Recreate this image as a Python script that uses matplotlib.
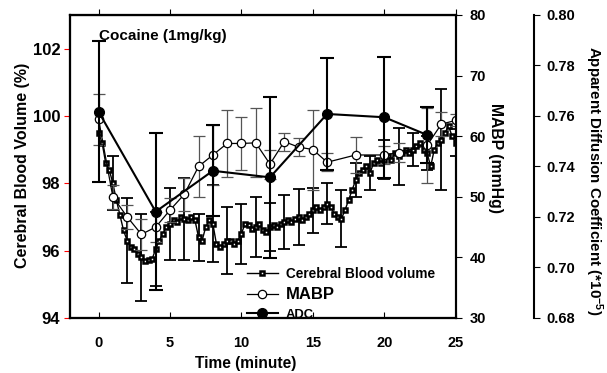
import matplotlib
matplotlib.use("Agg")
import matplotlib.pyplot as plt
import numpy as np

plt.rcParams['font.family'] = ['Liberation Sans', 'DejaVu Sans']
plt.rcParams['font.weight'] = 'bold'
plt.rcParams['mathtext.fontset'] = 'custom'
plt.rcParams['mathtext.rm'] = 'Liberation Sans:bold'
plt.rcParams['mathtext.default'] = 'rm'

# Cerebral blood volume (%), sampled every 15 s
cbv_time = np.arange(0, 25.01, 0.25)
cbv = [99.5, 99.2, 98.6, 98.4, 98.0, 97.5, 97.05, 96.6,
       96.3, 96.1, 96.05, 95.9, 95.8, 95.7, 95.72, 95.75,
       96.05, 96.3, 96.5, 96.7, 96.8, 96.9, 96.85, 97.0,
       96.95, 96.9, 97.0, 96.9, 96.4, 96.3, 96.7, 96.9,
       96.8, 96.2, 96.1, 96.2, 96.3, 96.3, 96.2, 96.3,
       96.5, 96.8, 96.75, 96.65, 96.7, 96.8, 96.6, 96.55,
       96.7, 96.75, 96.7, 96.8, 96.85, 96.9, 96.85, 96.95,
       97.0, 96.9, 97.0, 97.1, 97.2, 97.3, 97.2, 97.3,
       97.4, 97.3, 97.1, 97.0, 96.95, 97.2, 97.5, 97.8,
       98.1, 98.3, 98.4, 98.5, 98.3, 98.6, 98.7, 98.6,
       98.7, 98.8, 98.7, 98.9, 98.8, 98.9, 99.0, 98.9,
       99.0, 99.1, 99.2, 99.0, 98.9, 98.5, 99.0, 99.2,
       99.3, 99.5, 99.7, 99.4, 99.2]
cbv_err_time = list(range(1, 26))
cbv_err = [0.8, 1.27, 1.3, 1.1, 1.07, 1.22, 0.7, 1.15, 1.0, 0.9,
           0.88, 0.72, 0.8, 0.82, 0.67, 0.6, 0.84, 0.5, 0.5, 0.58,
           0.85, 0.5, 0.5, 1.5, 0.4]

# Mean arterial blood pressure (mmHg)
mabp_time = [0, 1, 2, 3, 4, 5, 6, 7, 8, 9, 10, 11, 12, 13, 14, 15, 16,
             18, 20, 21, 23, 24, 25]
mabp = [62.8, 50.0, 46.7, 43.8, 45.0, 47.8, 50.4, 55.0, 56.9, 58.8, 58.8,
        58.9, 55.4, 59.1, 58.2, 57.8, 55.7, 56.9, 56.9, 57.3, 58.5, 62.0,
        62.6]
mabp_err = [4.2, 2.0, 2.0, 2.5, 2.5, 2.0, 2.7, 5.1, 5.0, 5.5, 4.3, 5.7,
            2.4, 1.5, 1.5, 6.6, 1.5, 2.9, 1.5, 1.5, 6.2, 2.0, 1.0]

# Apparent diffusion coefficient (*10^-5)
adc_time = [0, 4, 8, 12, 16, 20, 23]
adc = [0.7617, 0.7221, 0.7383, 0.7357, 0.7608, 0.7595, 0.7525]
adc_err = [0.028, 0.031, 0.018, 0.032, 0.022, 0.024, 0.011]

fig = plt.figure(figsize=(6.07, 3.73), dpi=100)
ax = fig.add_axes([0.1153, 0.1475, 0.6354, 0.8123])
ax2 = ax.twinx()
ax3 = ax.twinx()
ax3.spines['right'].set_position(('axes', 1.203))

# CBV
cbv_at_err = [cbv[int(round(t / 0.25))] for t in cbv_err_time]
ax.errorbar(cbv_err_time, cbv_at_err, yerr=cbv_err, fmt='none',
            ecolor='black', elinewidth=1.3, capsize=4, capthick=1.3)
cbv_line, = ax.plot(cbv_time, cbv, color='black', linewidth=1.0, marker='s',
                    markersize=3.2, markerfacecolor='white',
                    markeredgecolor='black', markeredgewidth=1.8)
ax.set_xlim(-2, 25)
ax.set_ylim(94, 103)
ax.set_yticks([94, 96, 98, 100, 102])
ax.set_xticks([0, 5, 10, 15, 20, 25])
ax.tick_params(axis='y', direction='out', length=4, color='red',
               labelsize=12, pad=3)
ax.tick_params(axis='x', direction='in', length=4, labelsize=10.5, pad=13)
ax.set_xlabel('Time (minute)', fontsize=11.2, fontweight='bold')
ax.xaxis.set_label_coords(0.456, -0.125)
ax.set_ylabel('Cerebral Blood Volume (%)', fontsize=11.5, fontweight='bold',
              ha='center', va='center')
ax.yaxis.set_label_coords(-0.122, 0.505)

top = ax.secondary_xaxis('top')
top.set_xticks([0, 5, 10, 15, 20, 25])
top.tick_params(direction='out', length=4, labeltop=False)

# MABP
ax2.errorbar(mabp_time, mabp, yerr=mabp_err, fmt='none', ecolor='#555555',
             elinewidth=0.9, capsize=4, capthick=0.9)
mabp_line, = ax2.plot(mabp_time, mabp, color='black', linewidth=0.9,
                      marker='o', markersize=6, markerfacecolor='white',
                      markeredgecolor='black', markeredgewidth=0.9)
ax2.set_ylim(30, 80)
ax2.set_yticks([30, 40, 50, 60, 70, 80])
ax2.tick_params(axis='y', direction='out', length=4, labelsize=10.5, pad=6)
ax2.set_ylabel('MABP (mmHg)', rotation=270, fontsize=11.3, fontweight='bold',
               ha='center', va='center')
ax2.yaxis.set_label_coords(1.104, 0.528)

# ADC
ax3.errorbar(adc_time, adc, yerr=adc_err, fmt='none', ecolor='black',
             elinewidth=1.5, capsize=5, capthick=1.5)
adc_line, = ax3.plot(adc_time, adc, color='black', linewidth=1.5, marker='o',
                     markersize=7, markerfacecolor='black',
                     markeredgecolor='black')
ax3.set_ylim(0.68, 0.80)
ax3.set_yticks([0.68, 0.70, 0.72, 0.74, 0.76, 0.78, 0.80])
ax3.set_yticklabels(['0.68', '0.70', '0.72', '0.74', '0.76', '0.78', '0.80'])
ax3.tick_params(axis='y', direction='out', length=4, labelsize=10.5, pad=5)
ax3.set_ylabel('Apparent Diffusion Coefficient (*10$^{-5}$)', rotation=270,
               fontsize=10.9, fontweight='bold', ha='center', va='center')
ax3.yaxis.set_label_coords(1.358, 0.454)

for a in (ax, ax2, ax3):
    for s in a.spines.values():
        s.set_linewidth(1.5)

ax.text(2 / 27, 0.93, 'Cocaine (1mg/kg)', transform=ax.transAxes,
        fontsize=11, fontweight='bold', va='center', ha='left')

leg = ax3.legend([cbv_line, mabp_line, adc_line],
                 ['Cerebral Blood volume', 'MABP', 'ADC'],
                 loc='upper left', bbox_to_anchor=(0.459, 0.168),
                 frameon=False, borderpad=0, borderaxespad=0,
                 handlelength=2.25, handletextpad=0.6, labelspacing=0.45,
                 fontsize=9.8)
leg.get_texts()[1].set_fontsize(12)
leg.get_texts()[2].set_fontsize(9.4)

fig.savefig('out.png', dpi=100)
